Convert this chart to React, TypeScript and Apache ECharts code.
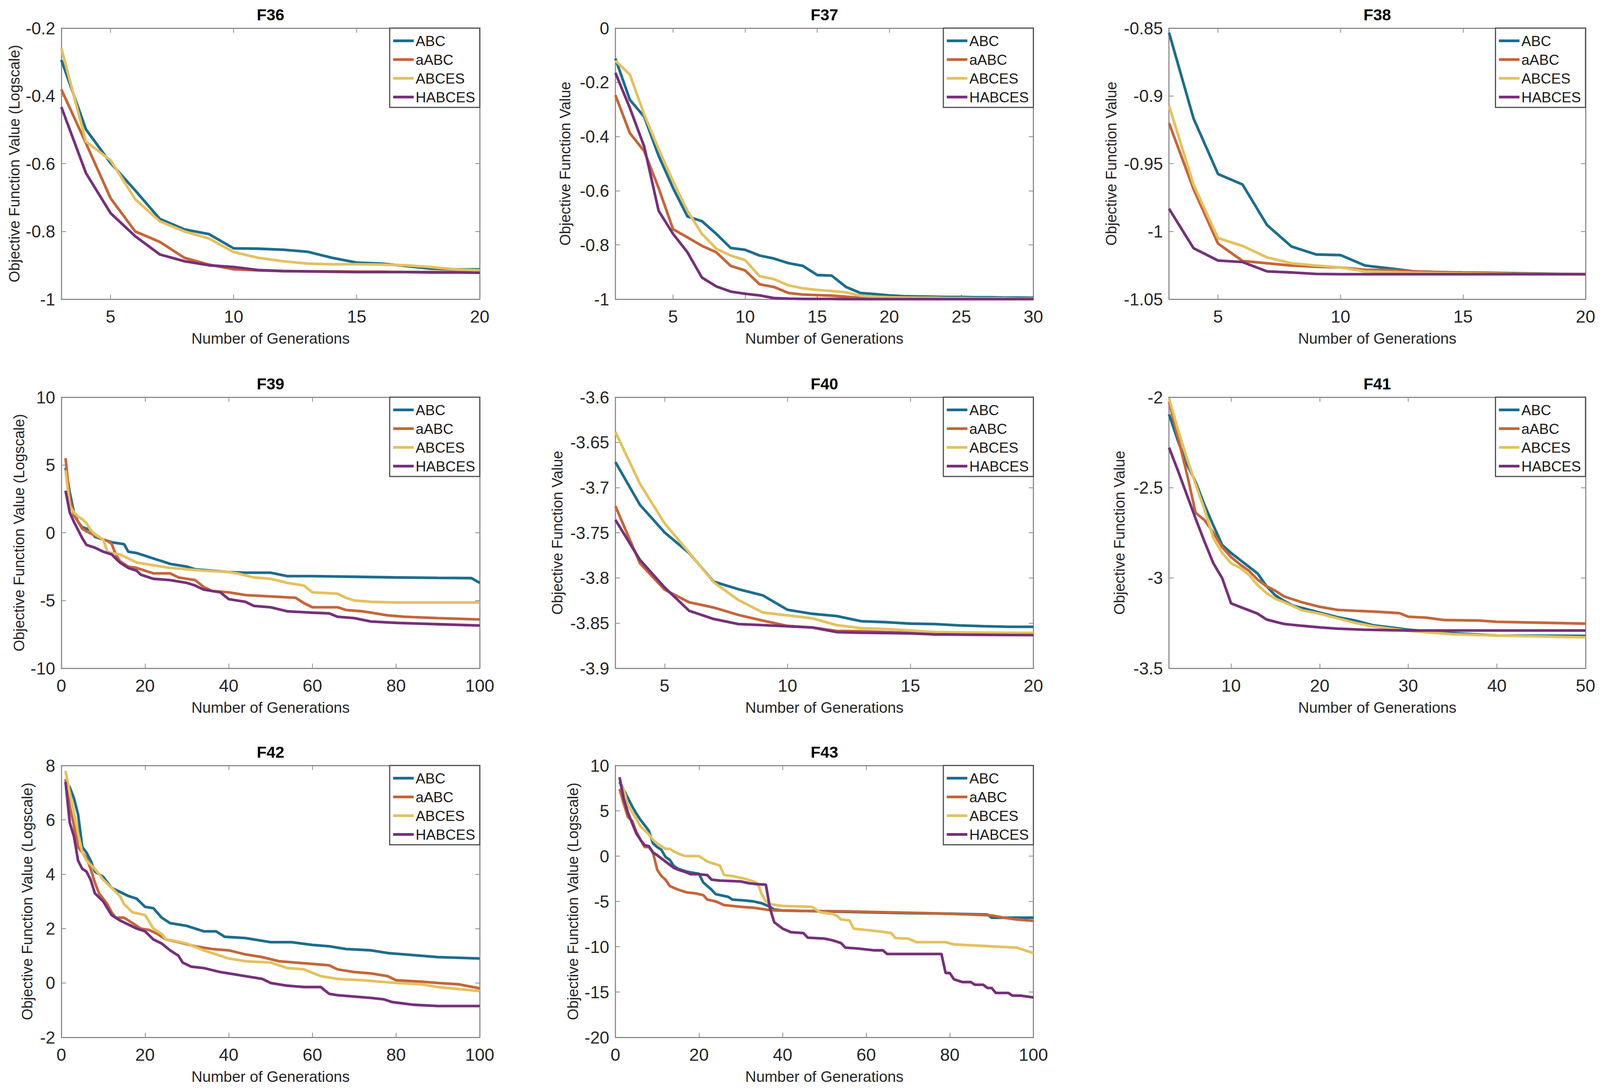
import React, { useEffect, useRef } from "react";
import * as echarts from "echarts";

const FONT = "'Liberation Sans', Arial, Helvetica, sans-serif";
const SERIES_NAMES = ["ABC", "aABC", "ABCES", "HABCES"];
const COLORS = ["#1d6d8c", "#c4663a", "#e4c160", "#76307a"];

const X_3_20 = [3, 4, 5, 6, 7, 8, 9, 10, 11, 12, 13, 14, 15, 16, 17, 18, 19, 20];
const X_1_30 = [1, 2, 3, 4, 5, 6, 7, 8, 9, 10, 11, 12, 13, 14, 15, 16, 17, 18, 19, 20, 21, 22, 23, 24, 25, 26, 27, 28, 29, 30];

// F36
const F36_ABC = [-0.294, -0.499, -0.598, -0.679, -0.763, -0.794, -0.808, -0.85, -0.851, -0.854, -0.86, -0.878, -0.892, -0.895, -0.902, -0.91, -0.912, -0.912];
const F36_AABC = [-0.381, -0.54, -0.702, -0.8, -0.831, -0.878, -0.898, -0.912, -0.915, -0.917, -0.918, -0.918, -0.919, -0.919, -0.92, -0.92, -0.92, -0.921];
const F36_ABCES = [-0.259, -0.535, -0.59, -0.705, -0.77, -0.8, -0.821, -0.861, -0.878, -0.888, -0.895, -0.897, -0.897, -0.898, -0.9, -0.905, -0.912, -0.915];
const F36_HABCES = [-0.433, -0.628, -0.746, -0.814, -0.868, -0.888, -0.9, -0.905, -0.914, -0.917, -0.918, -0.919, -0.92, -0.92, -0.92, -0.921, -0.921, -0.922];

// F37
const F37_ABC = [-0.112, -0.264, -0.327, -0.471, -0.59, -0.695, -0.712, -0.759, -0.811, -0.818, -0.839, -0.85, -0.867, -0.877, -0.911, -0.913, -0.955, -0.977, -0.981, -0.986, -0.989, -0.99, -0.991, -0.992, -0.992, -0.993, -0.993, -0.994, -0.994, -0.995];
const F37_AABC = [-0.247, -0.387, -0.454, -0.59, -0.742, -0.772, -0.803, -0.827, -0.877, -0.894, -0.945, -0.955, -0.977, -0.983, -0.985, -0.987, -0.991, -0.995, -0.996, -0.997, -0.997, -0.998, -0.998, -0.998, -0.998, -0.999, -0.999, -0.999, -0.999, -0.999];
const F37_ABCES = [-0.12, -0.171, -0.319, -0.446, -0.565, -0.674, -0.759, -0.814, -0.839, -0.856, -0.915, -0.926, -0.949, -0.96, -0.966, -0.97, -0.975, -0.987, -0.991, -0.993, -0.994, -0.995, -0.995, -0.996, -0.996, -0.997, -0.997, -0.997, -0.998, -0.998];
const F37_HABCES = [-0.165, -0.294, -0.437, -0.674, -0.759, -0.827, -0.92, -0.953, -0.972, -0.98, -0.986, -0.996, -0.998, -0.999, -0.999, -0.999, -1.0, -1.0, -1.0, -1.0, -1.0, -1.0, -1.0, -1.0, -1.0, -1.0, -1.0, -1.0, -1.0, -1.0];

// F38
const F38_ABC = [-0.8534, -0.9167, -0.9577, -0.9654, -0.9953, -1.0112, -1.017, -1.0175, -1.0252, -1.0273, -1.0295, -1.03, -1.0303, -1.0305, -1.0308, -1.0311, -1.0314, -1.0316];
const F38_AABC = [-0.9201, -0.9688, -1.009, -1.0218, -1.0235, -1.0252, -1.0261, -1.0266, -1.0283, -1.0286, -1.0295, -1.03, -1.0305, -1.0308, -1.0311, -1.0313, -1.0315, -1.0316];
const F38_ABCES = [-0.9073, -0.9654, -1.005, -1.0107, -1.0192, -1.0235, -1.0252, -1.0266, -1.0295, -1.03, -1.0305, -1.0308, -1.031, -1.0312, -1.0314, -1.0315, -1.0316, -1.0316];
const F38_HABCES = [-0.9833, -1.0124, -1.0215, -1.0226, -1.0295, -1.0303, -1.0314, -1.0316, -1.0316, -1.0316, -1.0316, -1.0316, -1.0316, -1.0316, -1.0316, -1.0316, -1.0316, -1.0316];

// F39
const F39_ABC = [[1, 4.8], [2, 3.0], [3, 1.5], [4, 0.8], [5, 0.4], [7, 0.2], [8, -0.3], [10, -0.5], [12, -0.7], [15, -0.85], [16, -1.4], [18, -1.5], [20, -1.7], [22, -1.9], [24, -2.1], [26, -2.3], [28, -2.4], [30, -2.5], [32, -2.7], [36, -2.8], [40, -2.9], [44, -2.95], [50, -2.95], [54, -3.2], [60, -3.2], [70, -3.25], [80, -3.3], [90, -3.33], [98, -3.35], [100, -3.7]];
const F39_AABC = [[1, 5.5], [2, 2.5], [3, 1.3], [4, 0.8], [5, 0.3], [6, 0.1], [8, -0.2], [10, -0.5], [11, -0.6], [12, -0.8], [13, -1.6], [14, -2.1], [16, -2.5], [18, -2.6], [20, -2.8], [22, -3.0], [26, -3.0], [28, -3.3], [32, -3.5], [34, -4.0], [36, -4.3], [40, -4.4], [44, -4.6], [50, -4.7], [56, -4.8], [58, -5.2], [60, -5.5], [66, -5.5], [68, -5.7], [72, -5.8], [74, -5.9], [78, -6.1], [82, -6.2], [90, -6.3], [100, -6.4]];
const F39_ABCES = [[1, 4.6], [2, 2.0], [3, 1.5], [4, 1.2], [5, 1.0], [6, 0.7], [7, 0.2], [8, -0.1], [9, -0.3], [10, -0.5], [11, -1.4], [12, -1.5], [14, -1.6], [16, -1.9], [18, -2.2], [20, -2.3], [22, -2.4], [26, -2.6], [30, -2.7], [34, -2.8], [40, -2.9], [42, -3.0], [46, -3.3], [50, -3.4], [54, -3.7], [58, -3.9], [60, -4.4], [66, -4.5], [68, -4.8], [70, -5.0], [74, -5.1], [80, -5.15], [90, -5.15], [100, -5.15]];
const F39_HABCES = [[1, 3.1], [2, 1.5], [3, 0.8], [4, 0.2], [5, -0.4], [6, -0.9], [8, -1.1], [10, -1.4], [12, -1.6], [14, -2.2], [16, -2.6], [18, -2.8], [19, -3.1], [22, -3.4], [26, -3.5], [30, -3.7], [32, -3.9], [34, -4.2], [36, -4.3], [38, -4.4], [40, -4.9], [42, -5.0], [44, -5.1], [46, -5.4], [50, -5.5], [54, -5.8], [60, -5.9], [64, -5.95], [66, -6.2], [70, -6.3], [74, -6.55], [80, -6.65], [90, -6.75], [100, -6.85]];

// F40
const F40_ABC = [-3.6718, -3.7192, -3.7496, -3.7725, -3.8042, -3.8125, -3.8194, -3.8353, -3.8397, -3.8422, -3.848, -3.849, -3.8506, -3.8511, -3.8526, -3.8535, -3.8541, -3.8541];
const F40_AABC = [-3.7205, -3.7839, -3.813, -3.827, -3.8328, -3.841, -3.8473, -3.8531, -3.8549, -3.8587, -3.859, -3.86, -3.8607, -3.8625, -3.8628, -3.863, -3.863, -3.863];
const F40_ABCES = [-3.6385, -3.6959, -3.7395, -3.772, -3.8049, -3.8244, -3.8384, -3.8415, -3.8447, -3.8523, -3.8556, -3.8566, -3.8582, -3.86, -3.8603, -3.8606, -3.8608, -3.861];
const F40_HABCES = [-3.7357, -3.7801, -3.8105, -3.8364, -3.8455, -3.8511, -3.8523, -3.8536, -3.8549, -3.86, -3.8607, -3.861, -3.8615, -3.8625, -3.8628, -3.863, -3.8632, -3.8633];

// F41
const F41_ABC = [[3, -2.095], [4, -2.241], [5, -2.368], [6, -2.469], [7, -2.596], [8, -2.71], [9, -2.818], [10, -2.862], [11, -2.9], [12, -2.938], [13, -2.976], [14, -3.046], [15, -3.097], [16, -3.128], [17, -3.154], [18, -3.166], [20, -3.192], [22, -3.217], [24, -3.236], [26, -3.262], [28, -3.274], [30, -3.287], [35, -3.306], [40, -3.319], [50, -3.321]];
const F41_AABC = [[3, -2.025], [4, -2.22], [5, -2.42], [6, -2.64], [7, -2.68], [8, -2.75], [9, -2.83], [10, -2.885], [11, -2.925], [12, -2.96], [13, -3.01], [14, -3.046], [15, -3.071], [16, -3.103], [18, -3.135], [20, -3.16], [22, -3.177], [24, -3.182], [26, -3.186], [28, -3.192], [29, -3.195], [30, -3.215], [32, -3.22], [34, -3.233], [38, -3.236], [40, -3.243], [50, -3.253]];
const F41_ABCES = [[3, -2.006], [4, -2.178], [5, -2.336], [6, -2.482], [7, -2.621], [8, -2.78], [9, -2.862], [10, -2.919], [11, -2.944], [12, -2.982], [13, -3.04], [14, -3.084], [15, -3.116], [16, -3.135], [18, -3.179], [20, -3.198], [22, -3.224], [24, -3.249], [26, -3.268], [28, -3.281], [30, -3.293], [35, -3.312], [40, -3.319], [50, -3.329]];
const F41_HABCES = [[3, -2.279], [4, -2.406], [5, -2.539], [6, -2.672], [7, -2.799], [8, -2.919], [9, -3.002], [10, -3.141], [11, -3.16], [12, -3.179], [13, -3.198], [14, -3.23], [15, -3.243], [16, -3.255], [18, -3.265], [20, -3.274], [22, -3.281], [25, -3.287], [30, -3.291], [50, -3.291]];

// F42
const F42_ABC = [[1, 7.4], [2, 7.2], [3, 6.8], [4, 6.2], [5, 5.0], [6, 4.8], [7, 4.5], [8, 4.1], [10, 3.9], [12, 3.5], [14, 3.35], [16, 3.2], [18, 3.1], [20, 2.8], [22, 2.75], [24, 2.4], [26, 2.2], [30, 2.1], [34, 1.9], [37, 1.9], [39, 1.7], [44, 1.65], [48, 1.55], [50, 1.5], [55, 1.5], [60, 1.4], [64, 1.35], [68, 1.25], [74, 1.2], [78, 1.1], [82, 1.05], [86, 1.0], [90, 0.95], [100, 0.9]];
const F42_AABC = [[1, 7.5], [2, 6.5], [3, 5.8], [4, 5.0], [5, 4.8], [6, 4.6], [7, 4.2], [8, 3.7], [9, 3.3], [10, 3.1], [11, 2.9], [12, 2.6], [13, 2.4], [15, 2.4], [17, 2.2], [19, 2.0], [21, 1.95], [23, 1.8], [25, 1.6], [28, 1.5], [32, 1.35], [36, 1.25], [40, 1.2], [44, 1.05], [48, 0.95], [52, 0.8], [56, 0.75], [60, 0.7], [64, 0.65], [66, 0.5], [70, 0.4], [74, 0.35], [78, 0.25], [80, 0.1], [86, 0.05], [90, 0.0], [95, -0.05], [100, -0.2]];
const F42_ABCES = [[1, 7.8], [2, 7.0], [3, 6.3], [4, 5.5], [5, 4.8], [6, 4.5], [8, 4.2], [10, 3.8], [12, 3.5], [14, 3.2], [15, 2.9], [17, 2.6], [20, 2.5], [22, 2.0], [24, 1.8], [25, 1.6], [27, 1.55], [30, 1.45], [34, 1.2], [38, 1.0], [40, 0.9], [44, 0.8], [50, 0.75], [54, 0.55], [58, 0.5], [62, 0.25], [66, 0.15], [72, 0.1], [80, 0.0], [86, -0.05], [90, -0.15], [100, -0.3]];
const F42_HABCES = [[1, 7.4], [2, 5.9], [3, 5.4], [4, 4.5], [5, 4.2], [6, 4.1], [7, 3.8], [8, 3.3], [10, 3.0], [12, 2.5], [14, 2.3], [16, 2.15], [18, 2.0], [20, 1.9], [22, 1.6], [24, 1.45], [26, 1.2], [28, 1.0], [29, 0.75], [31, 0.6], [34, 0.55], [38, 0.4], [40, 0.35], [44, 0.25], [48, 0.15], [50, 0.0], [54, -0.1], [58, -0.15], [62, -0.15], [64, -0.4], [66, -0.45], [70, -0.5], [74, -0.55], [77, -0.6], [79, -0.7], [84, -0.8], [90, -0.85], [100, -0.85]];

// F43
const F43_ABC = [[1, 8.2], [2, 7.3], [3, 6.4], [4, 5.5], [5, 4.7], [6, 4.0], [8, 2.8], [9, 1.4], [10, 1.0], [11, 0.7], [12, -0.1], [13, -0.4], [14, -1.1], [15, -1.4], [17, -1.7], [18, -1.8], [20, -1.95], [21, -2.9], [22, -3.3], [23, -3.7], [24, -4.2], [27, -4.5], [28, -4.8], [31, -4.9], [33, -5.0], [35, -5.2], [37, -5.6], [38, -5.9], [40, -6.0], [50, -6.1], [60, -6.2], [70, -6.3], [80, -6.35], [89, -6.45], [90, -6.8], [100, -6.8]];
const F43_AABC = [[1, 7.4], [2, 5.8], [3, 4.3], [4, 3.9], [5, 2.7], [6, 1.8], [7, 1.0], [8, 1.0], [9, 0.4], [10, -1.5], [11, -2.2], [12, -2.6], [13, -3.3], [15, -3.7], [17, -4.0], [19, -4.1], [21, -4.3], [22, -4.8], [24, -5.0], [26, -5.4], [30, -5.6], [33, -5.7], [36, -5.9], [38, -6.0], [45, -6.05], [55, -6.1], [65, -6.2], [75, -6.3], [85, -6.45], [90, -6.55], [93, -6.8], [96, -7.0], [100, -7.15]];
const F43_ABCES = [[1, 8.0], [2, 7.3], [3, 5.6], [5, 4.1], [6, 3.3], [8, 2.4], [9, 1.8], [10, 1.4], [12, 0.8], [13, 0.8], [14, 0.5], [16, 0.1], [17, 0.0], [20, 0.0], [21, -0.3], [22, -0.6], [24, -0.9], [25, -1.05], [26, -2.1], [28, -2.2], [31, -2.5], [33, -2.8], [34, -3.0], [35, -4.2], [36, -5.0], [37, -5.3], [40, -5.5], [47, -5.6], [49, -6.2], [52, -6.4], [53, -6.6], [54, -7.0], [56, -7.1], [57, -8.0], [63, -8.3], [66, -8.5], [67, -9.05], [70, -9.1], [72, -9.5], [79, -9.5], [81, -9.75], [96, -10.1], [100, -10.7]];
const F43_HABCES = [[1, 8.7], [2, 6.3], [3, 4.8], [5, 2.5], [6, 1.8], [7, 1.2], [8, 1.1], [9, 0.4], [10, 0.1], [12, -0.6], [14, -1.3], [15, -1.5], [17, -1.8], [18, -2.0], [20, -2.0], [22, -2.1], [23, -2.6], [25, -2.7], [30, -2.8], [32, -3.0], [34, -3.1], [36, -3.15], [37, -5.8], [38, -7.3], [40, -8.0], [42, -8.4], [45, -8.5], [46, -9.0], [50, -9.1], [52, -9.3], [54, -9.6], [55, -10.1], [58, -10.2], [62, -10.4], [64, -10.4], [65, -10.8], [78, -10.8], [79, -12.9], [80, -12.9], [81, -13.6], [83, -13.9], [85, -13.9], [86, -14.2], [88, -14.2], [89, -14.55], [90, -14.55], [91, -15.1], [94, -15.1], [95, -15.4], [97, -15.4], [100, -15.6]];

const Y_LOG = "Objective Function Value (Logscale)";
const Y_PLAIN = "Objective Function Value";
const X_NAME = "Number of Generations";

const zip = (xs: number[], ys: number[]) => xs.map((x, i) => [x, ys[i]]);

const PANELS = [
  { title: "F36", col: 0, row: 0, yName: Y_LOG, yMin: -1, yMax: -0.2, yInt: 0.2, xMin: 3, xMax: 20, xTicks: [5, 10, 15, 20], gap: 104,
    data: [zip(X_3_20, F36_ABC), zip(X_3_20, F36_AABC), zip(X_3_20, F36_ABCES), zip(X_3_20, F36_HABCES)] },
  { title: "F37", col: 1, row: 0, yName: Y_PLAIN, yMin: -1, yMax: 0, yInt: 0.2, xMin: 1, xMax: 30, xTicks: [5, 10, 15, 20, 25, 30], gap: 112,
    data: [zip(X_1_30, F37_ABC), zip(X_1_30, F37_AABC), zip(X_1_30, F37_ABCES), zip(X_1_30, F37_HABCES)] },
  { title: "F38", col: 2, row: 0, yName: Y_PLAIN, yMin: -1.05, yMax: -0.85, yInt: 0.05, xMin: 3, xMax: 20, xTicks: [5, 10, 15, 20], gap: 132,
    data: [zip(X_3_20, F38_ABC), zip(X_3_20, F38_AABC), zip(X_3_20, F38_ABCES), zip(X_3_20, F38_HABCES)] },
  { title: "F39", col: 0, row: 1, yName: Y_LOG, yMin: -10, yMax: 10, yInt: 5, xMin: 0, xMax: 100, xTicks: [0, 20, 40, 60, 80, 100], gap: 91,
    data: [F39_ABC, F39_AABC, F39_ABCES, F39_HABCES] },
  { title: "F40", col: 1, row: 1, yName: Y_PLAIN, yMin: -3.9, yMax: -3.6, yInt: 0.05, xMin: 3, xMax: 20, xTicks: [5, 10, 15, 20], gap: 133,
    data: [zip(X_3_20, F40_ABC), zip(X_3_20, F40_AABC), zip(X_3_20, F40_ABCES), zip(X_3_20, F40_HABCES)] },
  { title: "F41", col: 2, row: 1, yName: Y_PLAIN, yMin: -3.5, yMax: -2, yInt: 0.5, xMin: 3, xMax: 50, xTicks: [10, 20, 30, 40, 50], gap: 110,
    data: [F41_ABC, F41_AABC, F41_ABCES, F41_HABCES] },
  { title: "F42", col: 0, row: 2, yName: Y_LOG, yMin: -2, yMax: 8, yInt: 2, xMin: 0, xMax: 100, xTicks: [0, 20, 40, 60, 80, 100], gap: 70,
    data: [F42_ABC, F42_AABC, F42_ABCES, F42_HABCES] },
  { title: "F43", col: 1, row: 2, yName: Y_LOG, yMin: -20, yMax: 10, yInt: 5, xMin: 0, xMax: 100, xTicks: [0, 20, 40, 60, 80, 100], gap: 92,
    data: [F43_ABC, F43_AABC, F43_ABCES, F43_HABCES] },
];

// layout designed on the reference's 4199 x 2796 canvas, scaled to the real viewport
const REF_W = 4199;
const REF_H = 2796;
const COLS = [{ l: 161, r: 1259 }, { l: 1615, r: 2712 }, { l: 3068, r: 4161 }];
const ROWS = [{ t: 72, b: 766 }, { t: 1017, b: 1711 }, { t: 1960, b: 2656 }];

const AXIS_COLOR = "#8c8c8c";
const TEXT_COLOR = "#262626";

function buildOption(w: number, h: number) {
  const sx = w / REF_W;
  const sy = h / REF_H;
  const fs = Math.min(sx, sy);
  const X = (v: number) => v * sx;
  const Y = (v: number) => v * sy;
  const F = (v: number) => v * fs;

  const axisLine = { show: true, onZero: false, lineStyle: { color: AXIS_COLOR, width: F(3) } };
  const tickStyle = { color: AXIS_COLOR, width: F(2) };
  const xAxis: any[] = [];
  const yAxis: any[] = [];
  PANELS.forEach((p, i) => {
    xAxis.push({
      type: "value", gridIndex: i, position: "bottom", min: p.xMin, max: p.xMax,
      axisLine,
      axisTick: { show: true, inside: true, length: F(12), lineStyle: tickStyle, customValues: p.xTicks },
      axisLabel: { show: true, customValues: p.xTicks, fontSize: F(46), color: TEXT_COLOR, margin: Y(22), fontFamily: FONT },
      splitLine: { show: false },
      name: X_NAME, nameLocation: "middle", nameGap: Y(81),
      nameTextStyle: { fontSize: F(40), color: TEXT_COLOR, fontFamily: FONT },
    });
    xAxis.push({
      type: "value", gridIndex: i, position: "top", min: p.xMin, max: p.xMax,
      axisLine,
      axisTick: { show: true, inside: true, length: F(12), lineStyle: tickStyle, customValues: p.xTicks },
      axisLabel: { show: false, customValues: p.xTicks },
      splitLine: { show: false },
    });
    yAxis.push({
      type: "value", gridIndex: i, position: "left", min: p.yMin, max: p.yMax, interval: p.yInt,
      axisLine,
      axisTick: { show: true, inside: true, length: F(12), lineStyle: tickStyle },
      axisLabel: { show: true, fontSize: F(45), color: TEXT_COLOR, margin: X(16), fontFamily: FONT },
      splitLine: { show: false },
      name: p.yName, nameLocation: "middle", nameGap: X(p.gap),
      nameTextStyle: { fontSize: F(39), color: TEXT_COLOR, fontFamily: FONT },
    });
    yAxis.push({
      type: "value", gridIndex: i, position: "right", min: p.yMin, max: p.yMax, interval: p.yInt,
      axisLine,
      axisTick: { show: true, inside: true, length: F(12), lineStyle: tickStyle },
      axisLabel: { show: false },
      splitLine: { show: false },
    });
  });

  const grid = PANELS.map((p) => {
    const c = COLS[p.col];
    const r = ROWS[p.row];
    return { left: X(c.l), top: Y(r.t), width: X(c.r - c.l), height: Y(r.b - r.t), containLabel: false };
  });

  const legend = PANELS.map((p) => {
    const c = COLS[p.col];
    const r = ROWS[p.row];
    return {
      data: SERIES_NAMES, orient: "vertical", right: X(REF_W - c.r), top: Y(r.t),
      icon: "rect", itemWidth: F(54), itemHeight: F(7), itemGap: Y(11),
      padding: [Y(14), F(12), Y(8), F(9)],
      backgroundColor: "#ffffff", borderColor: "#4d4d4d", borderWidth: F(3), borderRadius: 0,
      selectedMode: false,
      textStyle: { fontSize: F(38), color: "#1a1a1a", fontFamily: FONT },
    };
  });

  const series: any[] = [];
  PANELS.forEach((p, i) => {
    p.data.forEach((d, k) => {
      series.push({
        type: "line", name: SERIES_NAMES[k], xAxisIndex: 2 * i, yAxisIndex: 2 * i,
        data: d, symbol: "none", showSymbol: false, clip: true, silent: true,
        lineStyle: { width: F(7), color: COLORS[k] }, itemStyle: { color: COLORS[k] },
      });
    });
  });

  const graphic = PANELS.map((p) => {
    const c = COLS[p.col];
    const r = ROWS[p.row];
    return {
      type: "text", x: X((c.l + c.r) / 2), y: Y(r.t - 34),
      style: { text: p.title, fontSize: F(42), fontWeight: "bold", fill: "#000000", textAlign: "center", textVerticalAlign: "middle", fontFamily: FONT },
    };
  });

  return {
    animation: false,
    backgroundColor: "#ffffff",
    textStyle: { fontFamily: FONT },
    grid, xAxis, yAxis, legend, series, graphic,
  };
}

export default function App() {
  const ref = useRef<HTMLDivElement>(null);
  useEffect(() => {
    document.body.style.margin = "0";
    document.body.style.overflow = "hidden";
    const el = ref.current;
    if (!el) return;
    const w = el.clientWidth || REF_W;
    const h = el.clientHeight || REF_H;
    const chart = echarts.init(el, null, { renderer: "svg", width: w, height: h });
    chart.setOption(buildOption(w, h));
    return () => chart.dispose();
  }, []);
  return <div ref={ref} style={{ position: "fixed", left: 0, top: 0, width: "100vw", height: "100vh", background: "#fff" }} />;
}
